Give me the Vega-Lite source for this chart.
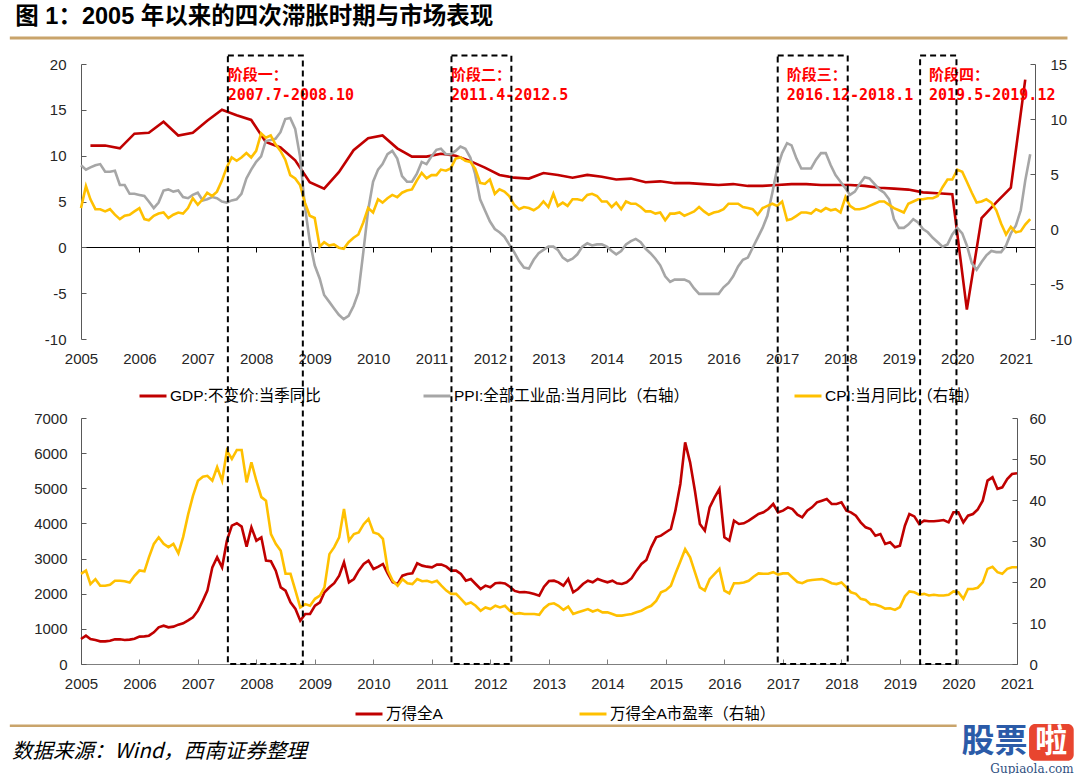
{
"$schema": "https://vega.github.io/schema/vega-lite/v6.json",
"background": "white",
"autosize": {"type": "pad"},
"padding": {"left": 8, "top": 4, "right": 0, "bottom": 0},
"title": {"text": "图 1：2005 年以来的四次滞胀时期与市场表现", "anchor": "start", "frame": "bounds", "dx": 7, "offset": 8, "font": "Liberation Sans, Noto Sans CJK SC", "fontSize": 23.5, "fontWeight": "bold", "color": "#000000"},
"config": {
  "view": {"stroke": null},
  "axis": {"labelFont": "Liberation Sans", "labelFontSize": 15, "labelColor": "#262626", "grid": false},
  "legend": {"symbolType": "stroke", "symbolStrokeWidth": 3, "symbolSize": 729, "labelFont": "Liberation Sans, Noto Sans CJK SC", "labelFontSize": 15.5, "labelColor": "#000000", "labelLimit": 500, "labelOffset": 2, "padding": 0, "orient": "none", "direction": "horizontal"}
},
"datasets": {
"g": [{"d":"2005-03","v":11.1},{"d":"2005-06","v":11.1},{"d":"2005-09","v":10.8},{"d":"2005-12","v":12.4},
{"d":"2006-03","v":12.5},{"d":"2006-06","v":13.7},{"d":"2006-09","v":12.2},{"d":"2006-12","v":12.5},
{"d":"2007-03","v":13.8},{"d":"2007-06","v":15.0},{"d":"2007-09","v":14.4},{"d":"2007-12","v":13.9},
{"d":"2008-03","v":11.5},{"d":"2008-06","v":10.9},{"d":"2008-09","v":9.5},{"d":"2008-12","v":7.1},
{"d":"2009-03","v":6.4},{"d":"2009-06","v":8.2},{"d":"2009-09","v":10.6},{"d":"2009-12","v":11.9},
{"d":"2010-03","v":12.2},{"d":"2010-06","v":10.8},{"d":"2010-09","v":9.9},{"d":"2010-12","v":9.9},
{"d":"2011-03","v":10.2},{"d":"2011-06","v":10.0},{"d":"2011-09","v":9.4},{"d":"2011-12","v":8.7},
{"d":"2012-03","v":7.9},{"d":"2012-06","v":7.6},{"d":"2012-09","v":7.5},{"d":"2012-12","v":8.1},
{"d":"2013-03","v":7.9},{"d":"2013-06","v":7.6},{"d":"2013-09","v":7.9},{"d":"2013-12","v":7.7},
{"d":"2014-03","v":7.4},{"d":"2014-06","v":7.5},{"d":"2014-09","v":7.1},{"d":"2014-12","v":7.2},
{"d":"2015-03","v":7.0},{"d":"2015-06","v":7.0},{"d":"2015-09","v":6.9},{"d":"2015-12","v":6.8},
{"d":"2016-03","v":6.9},{"d":"2016-06","v":6.7},{"d":"2016-09","v":6.7},{"d":"2016-12","v":6.8},
{"d":"2017-03","v":6.9},{"d":"2017-06","v":6.9},{"d":"2017-09","v":6.8},{"d":"2017-12","v":6.8},
{"d":"2018-03","v":6.8},{"d":"2018-06","v":6.7},{"d":"2018-09","v":6.5},{"d":"2018-12","v":6.4},
{"d":"2019-03","v":6.3},{"d":"2019-06","v":6.0},{"d":"2019-09","v":5.9},{"d":"2019-12","v":5.8},
{"d":"2020-03","v":-6.8},{"d":"2020-06","v":3.2},{"d":"2020-09","v":4.9},{"d":"2020-12","v":6.5},
{"d":"2021-03","v":18.3}],
"st": [{"n":1,"s":"2007-07-07","e":"2008-10-17","a":"阶段一：","b":"2007.7-2008.10"},
{"n":2,"s":"2011-05-03","e":"2012-05-11","a":"阶段二：","b":"2011.4-2012.5"},
{"n":3,"s":"2016-11-29","e":"2018-02-09","a":"阶段三：","b":"2016.12-2018.1"},
{"n":4,"s":"2019-05-07","e":"2019-12-20","a":"阶段四：","b":"2019.5-2019.12"}],
"m": [
{"d":"2005-01","c":1.9,"p":5.8,"i":712,"e":22.0},{"d":"2005-02","c":3.9,"p":5.4,"i":806,"e":22.8},{"d":"2005-03","c":2.7,"p":5.6,"i":712,"e":19.5},{"d":"2005-04","c":1.8,"p":5.8,"i":683,"e":20.7},{"d":"2005-05","c":1.8,"p":5.9,"i":645,"e":19.1},{"d":"2005-06","c":1.6,"p":5.2,"i":645,"e":19.1},{"d":"2005-07","c":1.8,"p":5.2,"i":664,"e":19.3},{"d":"2005-08","c":1.3,"p":5.3,"i":702,"e":20.3},{"d":"2005-09","c":0.9,"p":4.0,"i":702,"e":20.3},{"d":"2005-10","c":1.2,"p":4.0,"i":683,"e":20.2},{"d":"2005-11","c":1.3,"p":3.2,"i":693,"e":19.9},{"d":"2005-12","c":1.6,"p":3.2,"i":721,"e":21.5},
{"d":"2006-01","c":1.9,"p":3.1,"i":778,"e":22.8},{"d":"2006-02","c":0.9,"p":3.0,"i":787,"e":22.6},{"d":"2006-03","c":0.8,"p":2.5,"i":806,"e":26.0},{"d":"2006-04","c":1.2,"p":1.9,"i":901,"e":29.3},{"d":"2006-05","c":1.4,"p":2.4,"i":1044,"e":30.9},{"d":"2006-06","c":1.5,"p":3.5,"i":1091,"e":29.3},{"d":"2006-07","c":1.0,"p":3.6,"i":1044,"e":28.5},{"d":"2006-08","c":1.3,"p":3.4,"i":1063,"e":29.3},{"d":"2006-09","c":1.5,"p":3.5,"i":1120,"e":27.0},{"d":"2006-10","c":1.4,"p":2.9,"i":1157,"e":31.0},{"d":"2006-11","c":1.9,"p":2.8,"i":1240,"e":36.5},{"d":"2006-12","c":2.8,"p":3.1,"i":1328,"e":41.0},
{"d":"2007-01","c":2.2,"p":3.3,"i":1518,"e":44.7},{"d":"2007-02","c":2.7,"p":2.6,"i":1803,"e":45.7},{"d":"2007-03","c":3.3,"p":2.7,"i":2087,"e":45.9},{"d":"2007-04","c":3.0,"p":2.9,"i":2751,"e":44.7},{"d":"2007-05","c":3.4,"p":2.8,"i":3036,"e":48.0},{"d":"2007-06","c":4.4,"p":2.5,"i":2751,"e":44.7},{"d":"2007-07","c":5.6,"p":2.4,"i":3510,"e":52.0},{"d":"2007-08","c":6.5,"p":2.6,"i":3937,"e":50.0},{"d":"2007-09","c":6.2,"p":2.7,"i":4004,"e":52.2},{"d":"2007-10","c":6.5,"p":3.2,"i":3909,"e":52.2},{"d":"2007-11","c":6.9,"p":4.6,"i":3340,"e":44.3},{"d":"2007-12","c":6.5,"p":5.4,"i":3890,"e":49.2},
{"d":"2008-01","c":7.1,"p":6.1,"i":3510,"e":44.7},{"d":"2008-02","c":8.7,"p":6.6,"i":3605,"e":40.7},{"d":"2008-03","c":8.3,"p":8.0,"i":2941,"e":39.8},{"d":"2008-04","c":8.5,"p":8.1,"i":2922,"e":31.7},{"d":"2008-05","c":7.7,"p":8.2,"i":2657,"e":29.3},{"d":"2008-06","c":7.1,"p":8.8,"i":2182,"e":27.6},{"d":"2008-07","c":6.3,"p":10.0,"i":2087,"e":22.0},{"d":"2008-08","c":4.9,"p":10.1,"i":1755,"e":22.0},{"d":"2008-09","c":4.6,"p":9.1,"i":1565,"e":17.9},{"d":"2008-10","c":4.0,"p":6.6,"i":1233,"e":13.8},{"d":"2008-11","c":2.4,"p":2.0,"i":1423,"e":14.6},{"d":"2008-12","c":1.2,"p":-1.1,"i":1423,"e":14.2},
{"d":"2009-01","c":1.0,"p":-3.3,"i":1660,"e":15.9},{"d":"2009-02","c":-1.6,"p":-4.5,"i":1755,"e":16.7},{"d":"2009-03","c":-1.2,"p":-6.0,"i":2040,"e":18.7},{"d":"2009-04","c":-1.5,"p":-6.6,"i":2182,"e":26.8},{"d":"2009-05","c":-1.4,"p":-7.2,"i":2300,"e":28.5},{"d":"2009-06","c":-1.7,"p":-7.8,"i":2515,"e":30.9},{"d":"2009-07","c":-1.8,"p":-8.2,"i":2894,"e":37.8},{"d":"2009-08","c":-1.2,"p":-7.9,"i":2325,"e":30.1},{"d":"2009-09","c":-0.8,"p":-7.0,"i":2419,"e":31.7},{"d":"2009-10","c":-0.5,"p":-5.8,"i":2657,"e":32.1},{"d":"2009-11","c":0.6,"p":-2.1,"i":2846,"e":34.1},{"d":"2009-12","c":1.9,"p":1.7,"i":2941,"e":35.4},
{"d":"2010-01","c":1.5,"p":4.3,"i":2704,"e":32.1},{"d":"2010-02","c":2.7,"p":5.4,"i":2770,"e":31.7},{"d":"2010-03","c":2.4,"p":5.9,"i":2846,"e":30.5},{"d":"2010-04","c":2.8,"p":6.8,"i":2562,"e":22.8},{"d":"2010-05","c":3.1,"p":7.1,"i":2325,"e":20.3},{"d":"2010-06","c":2.9,"p":6.4,"i":2277,"e":19.1},{"d":"2010-07","c":3.3,"p":4.8,"i":2514,"e":20.7},{"d":"2010-08","c":3.5,"p":4.3,"i":2562,"e":19.7},{"d":"2010-09","c":3.6,"p":4.3,"i":2581,"e":19.5},{"d":"2010-10","c":4.4,"p":5.0,"i":2865,"e":20.7},{"d":"2010-11","c":5.1,"p":6.1,"i":2799,"e":20.2},{"d":"2010-12","c":4.6,"p":5.9,"i":2770,"e":20.3},
{"d":"2011-01","c":4.9,"p":6.6,"i":2751,"e":19.9},{"d":"2011-02","c":4.9,"p":7.2,"i":2827,"e":20.3},{"d":"2011-03","c":5.4,"p":7.3,"i":2827,"e":19.1},{"d":"2011-04","c":5.3,"p":6.8,"i":2770,"e":17.9},{"d":"2011-05","c":5.5,"p":6.8,"i":2657,"e":17.1},{"d":"2011-06","c":6.4,"p":7.1,"i":2657,"e":17.1},{"d":"2011-07","c":6.5,"p":7.5,"i":2562,"e":15.9},{"d":"2011-08","c":6.2,"p":7.3,"i":2372,"e":14.6},{"d":"2011-09","c":6.1,"p":6.5,"i":2419,"e":15.0},{"d":"2011-10","c":5.5,"p":5.0,"i":2277,"e":14.2},{"d":"2011-11","c":4.2,"p":2.7,"i":2135,"e":13.0},{"d":"2011-12","c":4.1,"p":1.7,"i":2230,"e":13.8},
{"d":"2012-01","c":4.5,"p":0.7,"i":2182,"e":13.4},{"d":"2012-02","c":3.2,"p":0.0,"i":2300,"e":14.2},{"d":"2012-03","c":3.6,"p":-0.3,"i":2310,"e":13.8},{"d":"2012-04","c":3.4,"p":-0.7,"i":2290,"e":14.2},{"d":"2012-05","c":3.0,"p":-1.4,"i":2200,"e":13.0},{"d":"2012-06","c":2.2,"p":-2.1,"i":2080,"e":12.2},{"d":"2012-07","c":1.8,"p":-2.9,"i":2040,"e":12.4},{"d":"2012-08","c":2.0,"p":-3.5,"i":2050,"e":12.2},{"d":"2012-09","c":1.9,"p":-3.6,"i":2030,"e":12.2},{"d":"2012-10","c":1.7,"p":-2.8,"i":1990,"e":12.2},{"d":"2012-11","c":2.0,"p":-2.2,"i":1945,"e":12.0},{"d":"2012-12","c":2.5,"p":-1.9,"i":2200,"e":13.6},
{"d":"2013-01","c":2.0,"p":-1.6,"i":2360,"e":14.6},{"d":"2013-02","c":3.2,"p":-1.6,"i":2371,"e":14.8},{"d":"2013-03","c":2.1,"p":-1.9,"i":2324,"e":14.2},{"d":"2013-04","c":2.4,"p":-2.6,"i":2229,"e":13.2},{"d":"2013-05","c":2.1,"p":-2.9,"i":2419,"e":14.0},{"d":"2013-06","c":2.7,"p":-2.7,"i":2039,"e":12.2},{"d":"2013-07","c":2.7,"p":-2.3,"i":2134,"e":12.6},{"d":"2013-08","c":2.6,"p":-1.6,"i":2276,"e":13.0},{"d":"2013-09","c":3.1,"p":-1.3,"i":2371,"e":13.4},{"d":"2013-10","c":3.2,"p":-1.5,"i":2324,"e":12.8},{"d":"2013-11","c":3.0,"p":-1.4,"i":2419,"e":13.2},{"d":"2013-12","c":2.5,"p":-1.4,"i":2371,"e":12.6},
{"d":"2014-01","c":2.5,"p":-1.6,"i":2324,"e":12.6},{"d":"2014-02","c":2.0,"p":-2.0,"i":2371,"e":12.2},{"d":"2014-03","c":2.4,"p":-2.3,"i":2295,"e":11.8},{"d":"2014-04","c":1.8,"p":-2.0,"i":2276,"e":11.8},{"d":"2014-05","c":2.5,"p":-1.4,"i":2324,"e":12.0},{"d":"2014-06","c":2.3,"p":-1.1,"i":2440,"e":12.2},{"d":"2014-07","c":2.3,"p":-0.9,"i":2656,"e":12.6},{"d":"2014-08","c":2.0,"p":-1.2,"i":2845,"e":13.0},{"d":"2014-09","c":1.6,"p":-1.8,"i":2959,"e":13.7},{"d":"2014-10","c":1.6,"p":-2.2,"i":3320,"e":14.2},{"d":"2014-11","c":1.4,"p":-2.7,"i":3604,"e":15.4},{"d":"2014-12","c":1.5,"p":-3.3,"i":3652,"e":17.5},
{"d":"2015-01","c":0.8,"p":-4.3,"i":3750,"e":18.0},{"d":"2015-02","c":1.4,"p":-4.8,"i":3841,"e":19.1},{"d":"2015-03","c":1.4,"p":-4.6,"i":4363,"e":22.0},{"d":"2015-04","c":1.5,"p":-4.6,"i":5122,"e":25.0},{"d":"2015-05","c":1.2,"p":-4.6,"i":6307,"e":28.0},{"d":"2015-06","c":1.4,"p":-4.8,"i":5738,"e":26.0},{"d":"2015-07","c":1.6,"p":-5.4,"i":4932,"e":22.4},{"d":"2015-08","c":2.0,"p":-5.9,"i":3984,"e":18.7},{"d":"2015-09","c":1.6,"p":-5.9,"i":3794,"e":17.9},{"d":"2015-10","c":1.3,"p":-5.9,"i":4458,"e":20.7},{"d":"2015-11","c":1.5,"p":-5.9,"i":4742,"e":22.0},{"d":"2015-12","c":1.6,"p":-5.9,"i":4980,"e":23.2},
{"d":"2016-01","c":1.8,"p":-5.3,"i":3604,"e":17.9},{"d":"2016-02","c":2.3,"p":-4.9,"i":3509,"e":17.2},{"d":"2016-03","c":2.3,"p":-4.3,"i":4078,"e":19.7},{"d":"2016-04","c":2.3,"p":-3.4,"i":3984,"e":19.7},{"d":"2016-05","c":2.0,"p":-2.8,"i":4003,"e":19.9},{"d":"2016-06","c":1.9,"p":-2.6,"i":4078,"e":20.3},{"d":"2016-07","c":1.8,"p":-1.7,"i":4173,"e":21.3},{"d":"2016-08","c":1.3,"p":-0.8,"i":4268,"e":22.1},{"d":"2016-09","c":1.9,"p":0.1,"i":4316,"e":22.0},{"d":"2016-10","c":2.1,"p":1.2,"i":4410,"e":22.0},{"d":"2016-11","c":2.3,"p":3.3,"i":4553,"e":22.4},{"d":"2016-12","c":2.1,"p":5.5,"i":4316,"e":21.8},
{"d":"2017-01","c":2.5,"p":6.9,"i":4363,"e":22.1},{"d":"2017-02","c":0.8,"p":7.8,"i":4458,"e":22.1},{"d":"2017-03","c":0.9,"p":7.6,"i":4410,"e":21.1},{"d":"2017-04","c":1.2,"p":6.4,"i":4250,"e":20.0},{"d":"2017-05","c":1.5,"p":5.5,"i":4173,"e":19.7},{"d":"2017-06","c":1.5,"p":5.5,"i":4363,"e":20.3},{"d":"2017-07","c":1.4,"p":5.5,"i":4458,"e":20.5},{"d":"2017-08","c":1.8,"p":6.3,"i":4600,"e":20.6},{"d":"2017-09","c":1.6,"p":6.9,"i":4648,"e":20.7},{"d":"2017-10","c":1.9,"p":6.9,"i":4695,"e":20.3},{"d":"2017-11","c":1.7,"p":5.8,"i":4553,"e":19.7},{"d":"2017-12","c":1.8,"p":4.9,"i":4553,"e":19.5},
{"d":"2018-01","c":1.5,"p":4.3,"i":4600,"e":19.9},{"d":"2018-02","c":2.9,"p":3.7,"i":4363,"e":18.7},{"d":"2018-03","c":2.1,"p":3.1,"i":4316,"e":17.5},{"d":"2018-04","c":1.8,"p":3.4,"i":4221,"e":17.1},{"d":"2018-05","c":1.8,"p":4.1,"i":4031,"e":15.9},{"d":"2018-06","c":1.9,"p":4.7,"i":3889,"e":15.6},{"d":"2018-07","c":2.1,"p":4.6,"i":3841,"e":14.6},{"d":"2018-08","c":2.3,"p":4.1,"i":3652,"e":14.5},{"d":"2018-09","c":2.5,"p":3.6,"i":3699,"e":14.1},{"d":"2018-10","c":2.5,"p":3.3,"i":3415,"e":13.5},{"d":"2018-11","c":2.2,"p":2.7,"i":3462,"e":13.6},{"d":"2018-12","c":1.9,"p":0.9,"i":3320,"e":13.2},
{"d":"2019-01","c":1.7,"p":0.1,"i":3367,"e":13.9},{"d":"2019-02","c":1.5,"p":0.1,"i":3936,"e":16.5},{"d":"2019-03","c":2.3,"p":0.4,"i":4268,"e":17.7},{"d":"2019-04","c":2.5,"p":0.9,"i":4200,"e":17.5},{"d":"2019-05","c":2.7,"p":0.6,"i":3984,"e":16.9},{"d":"2019-06","c":2.7,"p":0.0,"i":4078,"e":17.1},{"d":"2019-07","c":2.8,"p":-0.3,"i":4060,"e":16.7},{"d":"2019-08","c":2.8,"p":-0.8,"i":4060,"e":16.9},{"d":"2019-09","c":3.0,"p":-1.2,"i":4078,"e":16.7},{"d":"2019-10","c":3.8,"p":-1.6,"i":4097,"e":16.7},{"d":"2019-11","c":4.5,"p":-1.4,"i":4031,"e":16.9},{"d":"2019-12","c":4.5,"p":-0.5,"i":4316,"e":17.7},
{"d":"2020-01","c":5.4,"p":0.1,"i":4316,"e":17.5},{"d":"2020-02","c":5.2,"p":-0.4,"i":4031,"e":15.9},{"d":"2020-03","c":4.3,"p":-1.5,"i":4221,"e":18.3},{"d":"2020-04","c":3.3,"p":-3.1,"i":4268,"e":18.3},{"d":"2020-05","c":2.4,"p":-3.7,"i":4400,"e":18.6},{"d":"2020-06","c":2.5,"p":-3.0,"i":4648,"e":19.9},{"d":"2020-07","c":2.7,"p":-2.4,"i":5217,"e":23.2},{"d":"2020-08","c":2.4,"p":-2.0,"i":5312,"e":23.7},{"d":"2020-09","c":1.7,"p":-2.1,"i":4980,"e":22.4},{"d":"2020-10","c":0.5,"p":-2.1,"i":5027,"e":22.0},{"d":"2020-11","c":-0.5,"p":-1.5,"i":5264,"e":23.2},{"d":"2020-12","c":0.2,"p":-0.4,"i":5407,"e":23.6},
{"d":"2021-01","c":-0.3,"p":0.3,"i":5426,"e":23.6},{"d":"2021-02","c":-0.2,"p":1.7},{"d":"2021-03","c":0.4,"p":4.4},{"d":"2021-04","c":0.9,"p":6.8}
]
},
"spacing": 79,
"bounds": "flush",
"vconcat": [
{
  "width": 954, "height": 275,
  "layer": [
    {"layer": [
      {"data": {"name": "g"}, "mark": {"type": "line", "strokeWidth": 2.6},
       "encoding": {
         "x": {"field": "d", "type": "temporal", "scale": {"type": "utc", "domain": [{"year": 2005, "month": 1, "date": 1, "utc": true}, {"year": 2021, "month": 5, "date": 1, "utc": true}]},
               "axis": {"orient": "bottom", "domain": false, "ticks": false, "labelPadding": 12, "format": "%Y", "tickCount": 17, "labelFlush": false, "labelOverlap": false, "title": null}},
         "y": {"field": "v", "type": "quantitative", "scale": {"domain": [-10, 20], "nice": false, "zero": false},
               "axis": {"orient": "left", "values": [-10, -5, 0, 5, 10, 15, 20], "domainColor": "#595959", "tickColor": "#595959", "tickSize": -5, "labelPadding": 20, "labelExpr": "replace(datum.label, '\u2212', '-')", "title": null}},
         "color": {"datum": "GDP:不变价:当季同比", "scale": {"range": ["#C00000"]}, "legend": {"title": null, "orient": "none", "legendX": 57, "legendY": 317}}}},
      {"data": {"values": [{}]}, "mark": {"type": "rule", "color": "#C9A46B", "strokeWidth": 3},
       "encoding": {
         "x": {"datum": {"year": 2003, "month": 10, "date": 14, "utc": true}, "type": "temporal", "scale": {"type": "utc", "domain": [{"year": 2005, "month": 1, "date": 1, "utc": true}, {"year": 2021, "month": 5, "date": 1, "utc": true}]},
               "axis": {"orient": "bottom", "domain": false, "ticks": false, "labelPadding": 12, "format": "%Y", "tickCount": 17, "labelFlush": false, "labelOverlap": false, "title": null}},
         "x2": {"datum": {"year": 2021, "month": 11, "date": 20, "utc": true}},
         "y": {"datum": 22.84, "type": "quantitative", "scale": {"domain": [-10, 20], "nice": false, "zero": false},
               "axis": {"orient": "left", "values": [-10, -5, 0, 5, 10, 15, 20], "domainColor": "#595959", "tickColor": "#595959", "tickSize": -5, "labelPadding": 20, "labelExpr": "replace(datum.label, '\u2212', '-')", "title": null}}}},
      {"data": {"values": [{}]}, "mark": {"type": "rule", "color": "#C9A46B", "strokeWidth": 2.5},
       "encoding": {
         "x": {"datum": {"year": 2003, "month": 10, "date": 14, "utc": true}, "type": "temporal"},
         "x2": {"datum": {"year": 2019, "month": 12, "date": 28, "utc": true}},
         "y": {"datum": -52.2, "type": "quantitative"}}},
      {"data": {"values": [{}]}, "mark": {"type": "rect", "color": "#E8452F", "cornerRadius": 6},
       "encoding": {
         "x": {"datum": {"year": 2021, "month": 3, "date": 25, "utc": true}, "type": "temporal"},
         "x2": {"datum": {"year": 2021, "month": 12, "date": 29, "utc": true}},
         "y": {"datum": -52.0, "type": "quantitative"},
         "y2": {"datum": -56.0}}},
      {"data": {"values": [{"t": "啦"}]}, "mark": {"type": "text", "align": "center", "baseline": "middle", "font": "Noto Sans CJK SC", "fontSize": 32, "fontWeight": "bold", "color": "#FFFFFF"},
       "encoding": {
         "x": {"datum": {"year": 2021, "month": 8, "date": 10, "utc": true}, "type": "temporal"},
         "y": {"datum": -54.0, "type": "quantitative"},
         "text": {"field": "t"}}},
      {"data": {"values": [{"t": "股票"}]}, "mark": {"type": "text", "align": "right", "baseline": "middle", "font": "Noto Sans CJK SC", "fontSize": 33, "fontWeight": "bold", "color": "#2B5BA8"},
       "encoding": {
         "x": {"datum": {"year": 2021, "month": 3, "date": 15, "utc": true}, "type": "temporal"},
         "y": {"datum": -54.0, "type": "quantitative"},
         "text": {"field": "t"}}},
      {"data": {"values": [{"t": "Gupiaola.com"}]}, "mark": {"type": "text", "align": "right", "baseline": "middle", "font": "DejaVu Serif", "fontSize": 12, "color": "#2F4F7F"},
       "encoding": {
         "x": {"datum": {"year": 2021, "month": 12, "date": 29, "utc": true}, "type": "temporal"},
         "y": {"datum": -56.9, "type": "quantitative"},
         "text": {"field": "t"}}},
      {"data": {"name": "st"}, "transform": [{"filter": "datum.n <= 2"}],
       "mark": {"type": "text", "align": "left", "baseline": "middle", "font": "DejaVu Sans Mono, Noto Sans CJK SC", "fontSize": 15, "fontWeight": "bold", "color": "#FF0000"},
       "encoding": {"x": {"field": "s", "type": "temporal"}, "y": {"datum": 18.85, "type": "quantitative"}, "text": {"field": "a"}}},
      {"data": {"name": "st"}, "transform": [{"filter": "datum.n <= 2"}],
       "mark": {"type": "text", "align": "left", "baseline": "middle", "font": "DejaVu Sans Mono, Noto Sans CJK SC", "fontSize": 15, "fontWeight": "bold", "color": "#FF0000"},
       "encoding": {"x": {"field": "s", "type": "temporal"}, "y": {"datum": 16.62, "type": "quantitative"}, "text": {"field": "b"}}},
      {"data": {"name": "st"}, "transform": [{"filter": "datum.n > 2"}],
       "mark": {"type": "text", "align": "left", "baseline": "middle", "dx": 10, "font": "DejaVu Sans Mono, Noto Sans CJK SC", "fontSize": 15, "fontWeight": "bold", "color": "#FF0000"},
       "encoding": {"x": {"field": "s", "type": "temporal"}, "y": {"datum": 18.85, "type": "quantitative"}, "text": {"field": "a"}}},
      {"data": {"name": "st"}, "transform": [{"filter": "datum.n > 2"}],
       "mark": {"type": "text", "align": "left", "baseline": "middle", "dx": 10, "font": "DejaVu Sans Mono, Noto Sans CJK SC", "fontSize": 15, "fontWeight": "bold", "color": "#FF0000"},
       "encoding": {"x": {"field": "s", "type": "temporal"}, "y": {"datum": 16.62, "type": "quantitative"}, "text": {"field": "b"}}}
    ]},
    {"layer": [
      {"data": {"name": "m"}, "mark": {"type": "line", "strokeWidth": 2.6},
       "encoding": {
         "x": {"field": "d", "type": "temporal", "scale": {"type": "utc", "domain": [{"year": 2005, "month": 1, "date": 1, "utc": true}, {"year": 2021, "month": 5, "date": 1, "utc": true}]},
               "axis": {"orient": "bottom", "offset": -92, "domain": true, "domainColor": "#000000", "ticks": true, "tickColor": "#000000", "tickSize": 5, "labels": false, "tickCount": 17, "title": null}},
         "y": {"field": "p", "type": "quantitative", "scale": {"domain": [-10, 15], "nice": false, "zero": false},
               "axis": {"orient": "right", "values": [-10, -5, 0, 5, 10, 15], "domainColor": "#595959", "tickColor": "#595959", "tickSize": -5, "labelPadding": 20, "labelExpr": "replace(datum.label, '\u2212', '-')", "title": null}},
         "color": {"datum": "PPI:全部工业品:当月同比（右轴）", "scale": {"range": ["#A6A6A6"]}, "legend": {"title": null, "orient": "none", "legendX": 341, "legendY": 317}}}},
      {"data": {"name": "m"}, "mark": {"type": "line", "strokeWidth": 2.6},
       "encoding": {
         "x": {"field": "d", "type": "temporal"},
         "y": {"field": "c", "type": "quantitative"},
         "color": {"datum": "CPI:当月同比（右轴）", "scale": {"range": ["#FFC000"]}, "legend": {"title": null, "orient": "none", "legendX": 712, "legendY": 317}}}}
    ], "resolve": {"scale": {"color": "independent"}}}
  ],
  "resolve": {"scale": {"y": "independent", "color": "independent"}, "axis": {"x": "independent"}}
},
{
  "width": 936, "height": 246,
  "title": {"text": "数据来源：Wind，西南证券整理", "orient": "bottom", "anchor": "start", "frame": "group", "dx": -69, "offset": 19, "font": "Noto Sans CJK SC", "fontSize": 20.5, "fontStyle": "italic", "fontWeight": "normal", "color": "#000000"},
  "layer": [
    {"layer": [
      {"data": {"name": "m"}, "mark": {"type": "line", "strokeWidth": 2.6},
       "encoding": {
         "x": {"field": "d", "type": "temporal", "scale": {"type": "utc", "domain": [{"year": 2005, "month": 1, "date": 1, "utc": true}, {"year": 2021, "month": 1, "date": 1, "utc": true}]},
               "axis": {"orient": "bottom", "domain": true, "domainColor": "#7F7F7F", "ticks": true, "tickColor": "#7F7F7F", "tickSize": -5, "labelPadding": 17, "format": "%Y", "tickCount": 17, "labelFlush": false, "labelOverlap": false, "title": null}},
         "y": {"field": "i", "type": "quantitative", "scale": {"domain": [0, 7000], "nice": false, "zero": false},
               "axis": {"orient": "left", "values": [0, 1000, 2000, 3000, 4000, 5000, 6000, 7000], "format": "d", "domainColor": "#595959", "tickColor": "#595959", "tickSize": -5, "labelPadding": 19, "title": null}},
         "color": {"datum": "万得全A", "scale": {"range": ["#C00000"]}, "legend": {"title": null, "orient": "none", "legendX": 273, "legendY": 281}}}}
    ]},
    {"layer": [
      {"data": {"name": "m"}, "mark": {"type": "line", "strokeWidth": 2.6},
       "encoding": {
         "x": {"field": "d", "type": "temporal", "scale": {"type": "utc", "domain": [{"year": 2005, "month": 1, "date": 1, "utc": true}, {"year": 2021, "month": 1, "date": 1, "utc": true}]},
               "axis": {"orient": "bottom", "domain": true, "domainColor": "#7F7F7F", "ticks": true, "tickColor": "#7F7F7F", "tickSize": -5, "labelPadding": 17, "format": "%Y", "tickCount": 17, "labelFlush": false, "labelOverlap": false, "title": null}},
         "y": {"field": "e", "type": "quantitative", "scale": {"domain": [0, 60], "nice": false, "zero": false},
               "axis": {"orient": "right", "values": [0, 10, 20, 30, 40, 50, 60], "domainColor": "#595959", "tickColor": "#595959", "tickSize": -5, "labelPadding": 17, "title": null}},
         "color": {"datum": "万得全A市盈率（右轴）", "scale": {"range": ["#FFC000"]}, "legend": {"title": null, "orient": "none", "legendX": 497, "legendY": 281}}}},
      {"data": {"name": "st"}, "mark": {"type": "rect", "filled": false, "color": "#000000", "strokeWidth": 2, "strokeDash": [6, 4]},
       "encoding": {
         "x": {"field": "s", "type": "temporal"},
         "x2": {"field": "e"},
         "y": {"datum": 0, "type": "quantitative"},
         "y2": {"datum": 148.4}}}
    ]}
  ],
  "resolve": {"scale": {"y": "independent", "color": "independent"}}
}
]
}
